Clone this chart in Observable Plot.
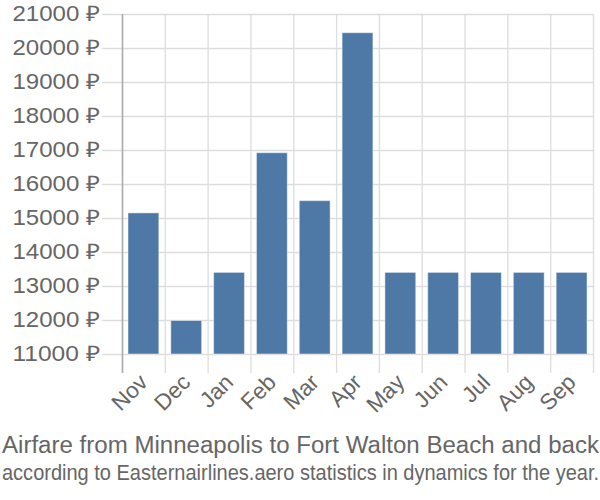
<!DOCTYPE html>
<html>
<head>
<meta charset="utf-8">
<script src="https://cdn.jsdelivr.net/npm/d3@7"></script>
<script src="https://cdn.jsdelivr.net/npm/@observablehq/plot@0.6"></script>
<style>
  html, body { margin: 0; padding: 0; background: #fff; }
  #wrap { position: relative; width: 600px; height: 500px; font-family: "Liberation Sans", Arial, sans-serif; color: #666; }
  .cap { position: absolute; left: 2px; white-space: nowrap; transform-origin: 0 0; }
  #title { top: 432px; font-size: 23px; }
  #subtitle { top: 460px; font-size: 22px; }
</style>
</head>
<body>
<div id="wrap">
  <div id="chart"></div>
  <span class="cap" id="title">Airfare from Minneapolis to Fort Walton Beach and back</span>
  <span class="cap" id="subtitle">according to Easternairlines.aero statistics in dynamics for the year.</span>
</div>
<script>
const months = ["Nov", "Dec", "Jan", "Feb", "Mar", "Apr", "May", "Jun", "Jul", "Aug", "Sep"];
const prices = [15150, 11985, 13400, 16920, 15510, 20450, 13400, 13400, 13400, 13400, 13400];
const yTicks = [11000, 12000, 13000, 14000, 15000, 16000, 17000, 18000, 19000, 20000, 21000];
const currency = "₽";

const data = months.map((m, i) => ({month: m, price: prices[i]}));
const yMin = yTicks[0], yMax = yTicks[yTicks.length - 1];

const W = 600, H = 430, mL = 122, mR = 7, mT = 14, mB = 76;
const step = (W - mL - mR) / months.length;
const gridColor = "#dddddd";
const textColor = "#666666";

const chart = Plot.plot({
  width: W, height: H,
  marginLeft: mL, marginRight: mR, marginTop: mT, marginBottom: mB,
  style: {fontFamily: "'Liberation Sans', Arial, sans-serif", color: textColor, background: "#fff"},
  x: {domain: months, paddingInner: 0.28, paddingOuter: 0.14, round: false, label: null},
  y: {domain: [yMin, yMax], label: null},
  marks: [
    Plot.ruleY(yTicks, {y: d => d, insetLeft: -20, stroke: gridColor, strokeWidth: 1.3}),
    Plot.ruleX(months.slice(1), {x: d => d, dx: -step / 2, y1: yMax, y2: yMin, insetBottom: -19, stroke: gridColor, strokeWidth: 1.3}),
    Plot.ruleX(months.slice(-1), {x: d => d, dx: step / 2, y1: yMax, y2: yMin, insetBottom: -19, stroke: gridColor, strokeWidth: 1.3}),
    Plot.barY(data, {x: "month", y1: yMin, y2: "price", fill: "#4e79a7", stroke: "#ffffff", strokeOpacity: 0.45, strokeWidth: 1}),
    Plot.ruleX(months.slice(0, 1), {x: d => d, dx: -step / 2, y1: yMax, y2: yMin, insetBottom: -19, stroke: "#aaaaaa", strokeWidth: 1.6}),
    Plot.axisY(yTicks, {tickSize: 0, tickPadding: 22, tickFormat: d => `${d} ${currency}`, fontSize: 21.5, fill: textColor, label: null}),
    Plot.axisX({tickSize: 0, tickPadding: 24, tickRotate: -45, fontSize: 22.5, fill: textColor, label: null})
  ]
});
document.getElementById("chart").appendChild(chart);

// horizontally stretch the y tick labels like the reference
chart.querySelectorAll("[aria-label='y-axis tick label'] text").forEach(t => {
  t.setAttribute("textLength", 88);
  t.setAttribute("lengthAdjust", "spacingAndGlyphs");
});

// fit title and subtitle to the full width
function fit(id, target) {
  const el = document.getElementById(id);
  const w = el.getBoundingClientRect().width;
  el.style.transform = `scaleX(${target / w})`;
}
fit("title", 597);
fit("subtitle", 597);
</script>
</body>
</html>
